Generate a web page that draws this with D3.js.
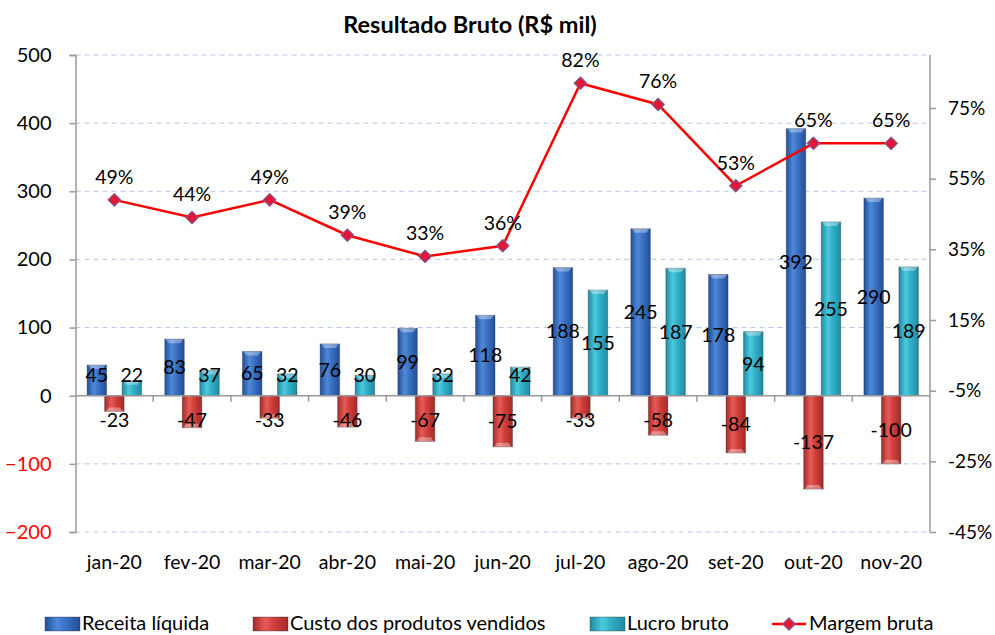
<!DOCTYPE html>
<html>
<head>
<meta charset="utf-8">
<script src="https://cdn.jsdelivr.net/npm/d3@7"></script>
<style>
    body { margin: 0; background: #fff; }
    svg text { font-family: Lato, "Open Sans", sans-serif; fill: #000; }
</style>
</head>
<body>
<div id="chart"></div>
<script>
// Data
var months = ["jan-20", "fev-20", "mar-20", "abr-20", "mai-20", "jun-20", "jul-20", "ago-20", "set-20", "out-20", "nov-20"];
var receita = [45, 83, 65, 76, 99, 118, 188, 245, 178, 392, 290];
var custo = [-23, -47, -33, -46, -67, -75, -33, -58, -84, -137, -100];
var lucro = [22, 37, 32, 30, 32, 42, 155, 187, 94, 255, 189];
var margem = [49, 44, 49, 39, 33, 36, 82, 76, 53, 65, 65];
var leftTicks = [-200, -100, 0, 100, 200, 300, 400, 500];
var rightTicks = [-45, -25, -5, 15, 35, 55, 75];
var seriesNames = ["Receita líquida", "Custo dos produtos vendidos", "Lucro bruto", "Margem bruta"];

function createChart(el) {
    var width = 995, height = 635;
    var plot = {left: 75.5, right: 930, top: 55, bottom: 532};

    var svg = el.append("svg")
        .attr("width", width)
        .attr("height", height);

    var defs = svg.append("defs");

    // Horizontal gradients give the bars their rounded look
    function barGradient(id, dark, mid, light) {
        var g = defs.append("linearGradient").attr("id", id)
            .attr("x1", "0%").attr("x2", "100%").attr("y1", "0%").attr("y2", "0%");
        g.append("stop").attr("offset", "0%").attr("stop-color", dark);
        g.append("stop").attr("offset", "35%").attr("stop-color", light);
        g.append("stop").attr("offset", "60%").attr("stop-color", mid);
        g.append("stop").attr("offset", "100%").attr("stop-color", dark);
    }
    barGradient("gBlue", "#234f98", "#3a70c2", "#4e89d8");
    barGradient("gRed", "#a52a27", "#d03e3a", "#e45c57");
    barGradient("gCyan", "#1f8ca3", "#31aec6", "#4cc9dd");

    var dg = defs.append("radialGradient").attr("id", "gDiamond");
    dg.append("stop").attr("offset", "0%").attr("stop-color", "#ff1030");
    dg.append("stop").attr("offset", "50%").attr("stop-color", "#d81a3c");
    dg.append("stop").attr("offset", "100%").attr("stop-color", "#7b5a94");

    // Scales
    var x = d3.scaleBand().domain(months).range([plot.left, plot.right]);
    var y = d3.scaleLinear().domain([-200, 500]).range([plot.bottom, plot.top]);
    var yR = d3.scaleLinear().domain([-45, 90]).range([plot.bottom, plot.top]);

    var barW = 19.5, step = 17.5;

    // Gridlines
    svg.append("g").selectAll("line")
        .data(leftTicks.filter(function(d) { return d !== 0; }))
        .enter().append("line")
        .attr("x1", plot.left).attr("x2", plot.right)
        .attr("y1", function(d) { return y(d); })
        .attr("y2", function(d) { return y(d); })
        .style("stroke", "#b7c8ea")
        .style("stroke-width", 1)
        .style("stroke-dasharray", "5,4");

    // Left axis
    var yAxis = d3.axisLeft(y).tickValues(leftTicks).tickSize(6).tickPadding(18);
    var gy = svg.append("g")
        .attr("transform", "translate(" + plot.left + ",0)")
        .call(yAxis);
    gy.select(".domain").attr("stroke", "#999").attr("stroke-width", 1.5);
    gy.selectAll(".tick line").attr("stroke", "#999").attr("stroke-width", 1.5);
    gy.selectAll(".tick text")
        .attr("font-size", 20)
        .style("fill", function(d) { return d < 0 ? "#ff0000" : "#000"; });

    // Right axis
    var yRAxis = d3.axisRight(yR).tickValues(rightTicks).tickSize(6).tickPadding(12)
        .tickFormat(function(d) { return d + "%"; });
    var gr = svg.append("g")
        .attr("transform", "translate(" + plot.right + ",0)")
        .call(yRAxis);
    gr.select(".domain").attr("stroke", "#999").attr("stroke-width", 1.5)
        .attr("d", "M0," + plot.top + "V" + plot.bottom);
    gr.selectAll(".tick line").attr("stroke", "#999").attr("stroke-width", 1.5);
    gr.selectAll(".tick text").attr("font-size", 19);

    // Bars
    function drawBars(values, offset, fill, cls) {
        var g = svg.append("g").attr("class", cls);
        g.selectAll("rect")
            .data(values)
            .enter().append("rect")
            .attr("x", function(d, i) { return x(months[i]) + x.bandwidth() / 2 + offset - barW / 2; })
            .attr("y", function(d) { return y(Math.max(0, d)); })
            .attr("width", barW)
            .attr("height", function(d) { return Math.abs(y(d) - y(0)); })
            .style("fill", "url(#" + fill + ")")
            .style("stroke", "rgba(40,40,60,0.35)")
            .style("stroke-width", 1);
        // little bevel highlight at the bar end
        g.selectAll("path")
            .data(values)
            .enter().append("path")
            .attr("d", function(d, i) {
                var x0 = x(months[i]) + x.bandwidth() / 2 + offset - barW / 2;
                var yEnd = y(d), dir = d >= 0 ? 1 : -1;
                return "M" + (x0 + 1) + "," + yEnd + "L" + (x0 + barW - 1) + "," + yEnd +
                    "L" + (x0 + barW - 4) + "," + (yEnd + dir * 4) + "L" + (x0 + 4) + "," + (yEnd + dir * 4) + "Z";
            })
            .style("fill", "rgba(255,255,255,0.35)");
    }
    drawBars(receita, -step, "gBlue", "receita");
    drawBars(custo, 0, "gRed", "custo");
    drawBars(lucro, step, "gCyan", "lucro");

    // Zero line with category ticks
    svg.append("line")
        .attr("x1", plot.left).attr("x2", plot.right)
        .attr("y1", y(0)).attr("y2", y(0))
        .style("stroke", "#999").style("stroke-width", 1.5);
    svg.append("g").selectAll("line")
        .data(months.slice(1))
        .enter().append("line")
        .attr("x1", function(d) { return x(d); })
        .attr("x2", function(d) { return x(d); })
        .attr("y1", y(0)).attr("y2", y(0) + 6)
        .style("stroke", "#999").style("stroke-width", 1.5);

    // Bar value labels, centered in the bar but kept clear of the axis
    function drawLabels(values, offset) {
        svg.append("g").selectAll("text")
            .data(values)
            .enter().append("text")
            .attr("x", function(d, i) { return x(months[i]) + x.bandwidth() / 2 + offset; })
            .attr("y", function(d) {
                var c = (y(d) + y(0)) / 2;
                return d >= 0 ? Math.min(c, y(0) - 21) : Math.max(c, y(0) + 24);
            })
            .attr("dy", "0.35em")
            .attr("text-anchor", "middle")
            .attr("font-size", 19.5)
            .text(function(d) { return d; });
    }
    drawLabels(receita, -step);
    drawLabels(custo, 0);
    drawLabels(lucro, step);

    // Margin line
    var line = d3.line()
        .x(function(d, i) { return x(months[i]) + x.bandwidth() / 2; })
        .y(function(d) { return yR(d); });
    svg.append("path")
        .datum(margem)
        .attr("d", line)
        .style("fill", "none")
        .style("stroke", "#ff0000")
        .style("stroke-width", 2.5);

    var diamond = d3.symbol().type(d3.symbolDiamond2).size(110);
    svg.append("g").selectAll("path")
        .data(margem)
        .enter().append("path")
        .attr("d", diamond)
        .attr("transform", function(d, i) { return "translate(" + (x(months[i]) + x.bandwidth() / 2) + "," + yR(d) + ")"; })
        .style("fill", "url(#gDiamond)")
        .style("stroke", "#806397")
        .style("stroke-width", 1);

    svg.append("g").selectAll("text")
        .data(margem)
        .enter().append("text")
        .attr("x", function(d, i) { return x(months[i]) + x.bandwidth() / 2; })
        .attr("y", function(d) { return yR(d) - 23; })
        .attr("dy", "0.35em")
        .attr("text-anchor", "middle")
        .attr("font-size", 19.5)
        .text(function(d) { return d + "%"; });

    // X axis labels
    svg.append("g").selectAll("text")
        .data(months)
        .enter().append("text")
        .attr("x", function(d) { return x(d) + x.bandwidth() / 2; })
        .attr("y", plot.bottom + 30)
        .attr("dy", "0.35em")
        .attr("text-anchor", "middle")
        .attr("font-size", 19.5)
        .text(function(d) { return d; });

    // Title
    svg.append("text")
        .attr("x", 470)
        .attr("y", 33)
        .attr("text-anchor", "middle")
        .attr("font-size", 23.5)
        .attr("font-weight", "bold")
        .text("Resultado Bruto (R$ mil)");

    // Legend
    var legendY = 623;
    var legendX = [45, 253, 590, 772];
    var fills = ["gBlue", "gRed", "gCyan"];
    var lg = svg.append("g");
    fills.forEach(function(f, i) {
        lg.append("rect")
            .attr("x", legendX[i]).attr("y", legendY - 6)
            .attr("width", 35).attr("height", 14)
            .style("fill", "url(#" + f + ")")
            .style("stroke", "rgba(40,40,60,0.35)");
    });
    lg.append("line")
        .attr("x1", legendX[3]).attr("x2", legendX[3] + 34)
        .attr("y1", legendY + 1).attr("y2", legendY + 1)
        .style("stroke", "#ff0000").style("stroke-width", 2.5);
    lg.append("path")
        .attr("d", diamond)
        .attr("transform", "translate(" + (legendX[3] + 17) + "," + (legendY + 1) + ")")
        .style("fill", "url(#gDiamond)")
        .style("stroke", "#806397");
    lg.selectAll("text")
        .data(seriesNames)
        .enter().append("text")
        .attr("x", function(d, i) { return legendX[i] + 37; })
        .attr("y", legendY)
        .attr("dy", "0.35em")
        .attr("font-size", 20)
        .text(function(d) { return d; });
}
createChart(d3.select("#chart"));
</script>
</body>
</html>
